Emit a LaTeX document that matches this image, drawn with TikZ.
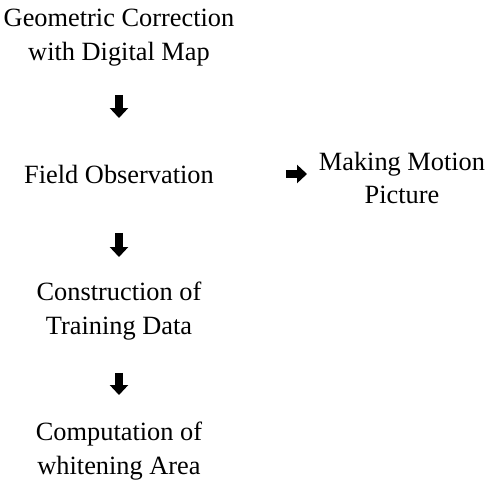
\documentclass[tikz,border=0pt]{standalone}
\usepackage{fontspec}
\setmainfont{Liberation Serif}
\usetikzlibrary{arrows.meta}

\begin{document}
\begin{tikzpicture}[x=0.02cm,y=-0.02cm]
\tikzstyle{step_text}=[align=center, inner sep=0pt, font=\fontsize{15}{19.3}\selectfont]
\tikzstyle{connect}=[-{Triangle[width=0.36cm,length=0.2cm]}, line width=0.15cm]

	\useasboundingbox (0,0) rectangle (491,484);

	\node[step_text] (geo) at (119,38) []{Geometric Correction\\with Digital Map};
	\node[step_text] (field) at (119,174) []{Field Observation};
	\node[step_text] (motion) at (402,178) []{Making Motion\\Picture};
	\node[step_text] (train) at (119,311) []{Construction of\\Training Data};
	\node[step_text] (white) at (119,451) []{Computation of\\whitening Area};

	\path
	 (geo.center) edge[connect, shorten <=1.14cm, shorten >=1.12cm] (field.center)
	 (field.center) edge[connect, shorten <=1.18cm, shorten >=1.08cm] (train.center)
	 (train.center) edge[connect, shorten <=1.24cm, shorten >=1.12cm] (white.center)
	 (field.center) edge[connect, shorten <=3.34cm, shorten >=1.90cm] (field.center -| motion.center);

\end{tikzpicture}
\end{document}
